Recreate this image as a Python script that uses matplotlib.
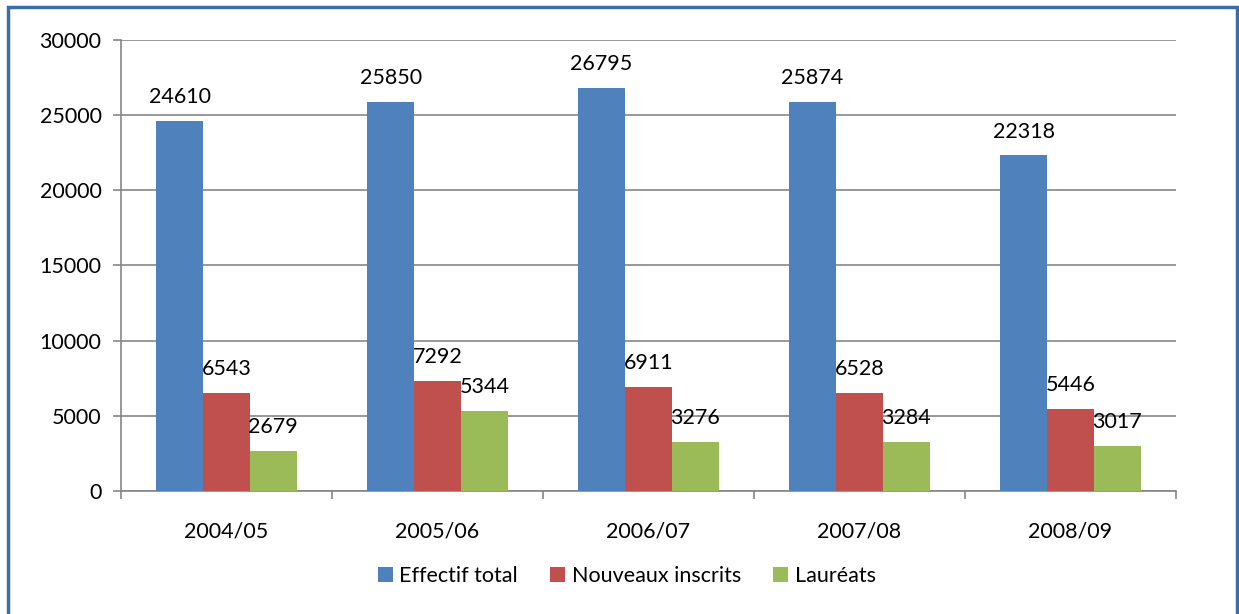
import numpy as np
import matplotlib.pyplot as plt
from matplotlib.patches import Rectangle

# donnees
annees = ['2004/05', '2005/06', '2006/07', '2007/08', '2008/09']
effectif_total = [24610, 25850, 26795, 25874, 22318]
nouveaux_inscrits = [6543, 7292, 6911, 6528, 5446]
laureats = [2679, 5344, 3276, 3284, 3017]
series_noms = ['Effectif total', 'Nouveaux inscrits', 'Lauréats']
couleurs = ['#4F81BD', '#C0504D', '#9BBB59']

plt.rcParams['font.family'] = ['Lato', 'DejaVu Sans']
fs = 15.5

fig = plt.figure(figsize=(12.39, 6.14), dpi=100)
ax = fig.add_axes([0.0977, 0.2003, 0.8513, 0.7346])

# cadre bleu autour du graphique
fig.patches.append(Rectangle((0.0065, -0.01), 0.9915, 0.9985, transform=fig.transFigure,
                             fill=False, edgecolor='#3B6EA8', linewidth=2.5))

x = np.arange(len(annees))
w = 0.222
for i, (vals, nom, c) in enumerate(zip([effectif_total, nouveaux_inscrits, laureats],
                                       series_noms, couleurs)):
    pos = x + (i - 1) * w
    ax.bar(pos, vals, width=w, color=c, label=nom, zorder=3)
    for p, v in zip(pos, vals):
        ax.annotate(str(v), (p, v), xytext=(0, 10), textcoords='offset points',
                    ha='center', va='bottom', fontsize=fs, zorder=4)

ax.set_xlim(-0.5, len(annees) - 0.5)
ax.set_ylim(0, 30000)
ax.set_yticks(range(0, 30001, 5000))
ax.set_xticks(x)
ax.set_xticklabels(annees)
ax.set_xticks(np.arange(-0.5, len(annees)), minor=True)
ax.tick_params(axis='x', which='major', length=0, pad=22, labelsize=fs)
ax.tick_params(axis='x', which='minor', length=6, color='#868686', width=1.2)
ax.tick_params(axis='y', length=6, color='#868686', width=1.2, labelsize=fs, pad=8)

ax.grid(axis='y', color='#868686', linewidth=1.2, zorder=0)
for s in ['top', 'right']:
    ax.spines[s].set_visible(False)
for s in ['left', 'bottom']:
    ax.spines[s].set_color('#868686')
    ax.spines[s].set_linewidth(1.2)

ax.legend(loc='center', ncol=3, frameon=False, fontsize=fs, handlelength=0.7,
          handleheight=0.7, handletextpad=0.3, columnspacing=1.5)
# placer la legende en coordonnees figure
leg = ax.get_legend()
leg.set_bbox_to_anchor((0.506, 0.062), transform=fig.transFigure)

fig.savefig('out.png', dpi=100)
